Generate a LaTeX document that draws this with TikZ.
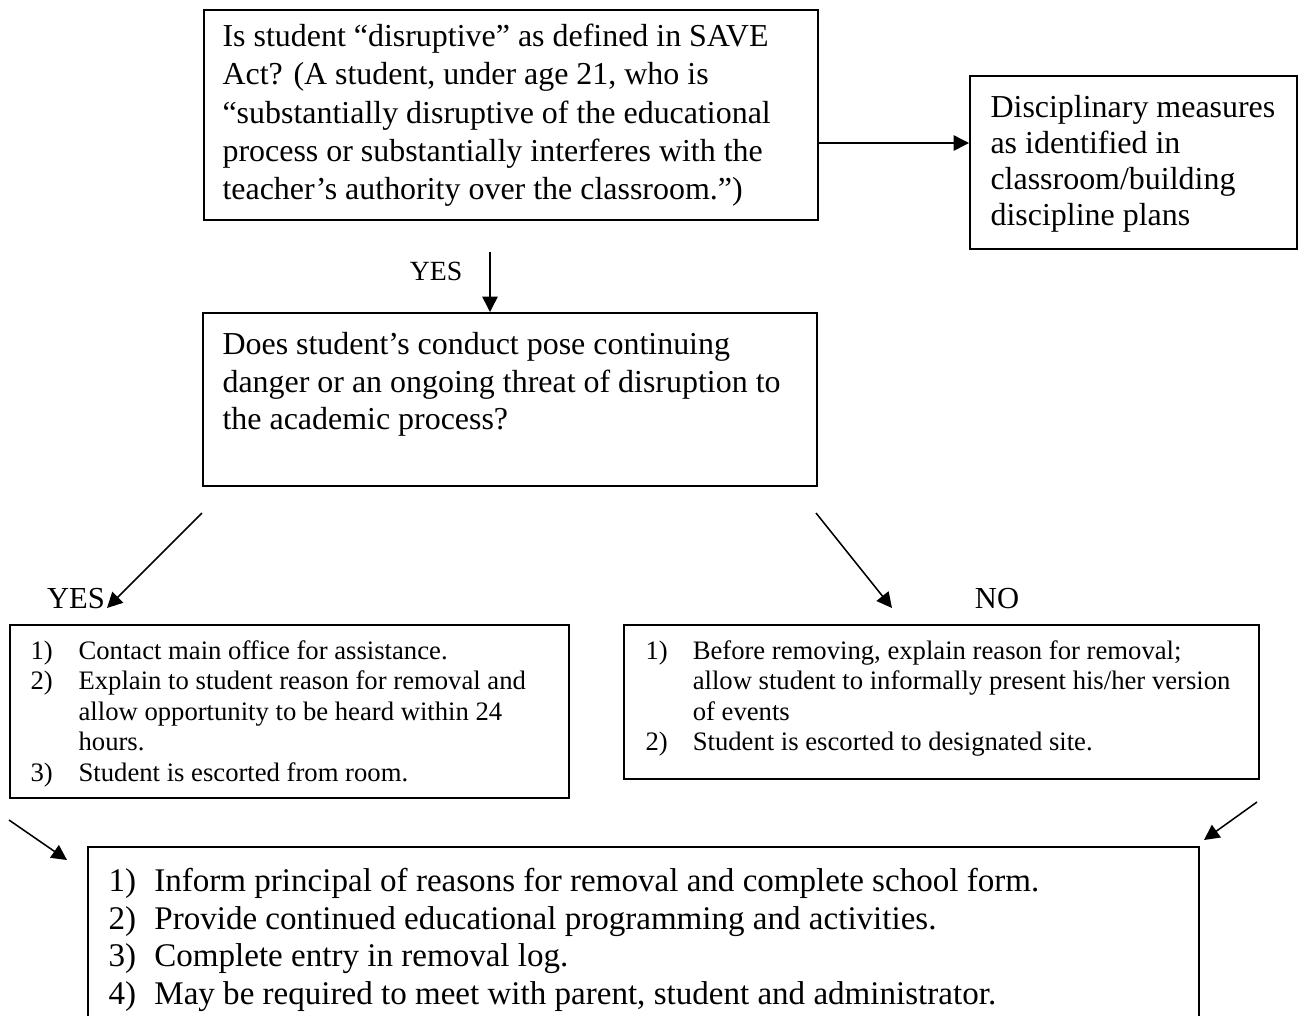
\documentclass[tikz,border=0pt]{standalone}
\usepackage{fontspec}
\setmainfont{Liberation Serif}
\usetikzlibrary{arrows.meta}
\begin{document}
\begin{tikzpicture}[x=0.36pt,y=-0.36pt,
  box/.style={draw, line width=0.75pt, inner sep=0, anchor=north west},
  wh/.style 2 args={minimum width=#1*0.36pt, minimum height=#2*0.36pt},
  txt/.style={anchor=north west, inner sep=0, yshift=10pt, align=left},
  bigA/.style={font=\fontsize{11.5}{13.8}\selectfont},
  bigB/.style={font=\fontsize{11.5}{12.96}\selectfont},
  bigC/.style={font=\fontsize{11.5}{13.5}\selectfont},
  bigF/.style={font=\fontsize{11.9}{13.5}\selectfont},
  small/.style={font=\fontsize{9.6}{10.95}\selectfont},
  arr/.style={line width=0.55pt, -{Triangle[length=5.5pt,width=5.5pt]}},
  lbl/.style={anchor=base, inner sep=0}]
\useasboundingbox (0,0) rectangle (1303,1015);
\clip (0,0) rectangle (1303,1015);

% boxes
\node[box, wh={614}{210}] (A) at (203,9) {};
\node[box, wh={327}{173}] (B) at (969,75) {};
\node[box, wh={614}{173}] (C) at (202,312) {};
\node[box, wh={559}{173}] (D) at (9,624) {};
\node[box, wh={635}{154}] (E) at (623,624) {};
\node[box, wh={1111}{260}] (F) at (87,846) {};

% texts
\node[txt,bigA] (At) at (222,46) {\rule{0pt}{10pt}Is student “disruptive” as defined in SAVE\\Act? (A student, under age 21, who is\\“substantially disruptive of the educational\\process or substantially interferes with the\\teacher’s authority over the classroom.”)};
\node[txt,bigB] (Bt) at (990,117) {\rule{0pt}{10pt}Disciplinary measures\\as identified in\\classroom/building\\discipline plans};
\node[txt,bigC] (Ct) at (222,354) {\rule{0pt}{10pt}Does student’s conduct pose continuing\\danger or an ongoing threat of disruption to\\the academic process?};
\node[txt,small] (Dt) at (30,659) {\rule{0pt}{10pt}\makebox[17.3pt][l]{1)}Contact main office for assistance.\\
\makebox[17.3pt][l]{2)}Explain to student reason for removal and\\
\hspace*{17.3pt}allow opportunity to be heard within 24\\
\hspace*{17.3pt}hours.\\
\makebox[17.3pt][l]{3)}Student is escorted from room.};
\node[txt,small] (Et) at (645,659) {\rule{0pt}{10pt}\makebox[17pt][l]{1)}Before removing, explain reason for removal;\\
\hspace*{17pt}allow student to informally present his/her version\\
\hspace*{17pt}of events\\
\makebox[17pt][l]{2)}Student is escorted to designated site.};
\node[txt,bigF] (Ft) at (108,891) {\rule{0pt}{10pt}\makebox[16.5pt][l]{1)}Inform principal of reasons for removal and complete school form.\\
\makebox[16.5pt][l]{2)}Provide continued educational programming and activities.\\
\makebox[16.5pt][l]{3)}Complete entry in removal log.\\
\makebox[16.5pt][l]{4)}May be required to meet with parent, student and administrator.};

% labels
\node[lbl, font=\fontsize{10}{12}\selectfont] (yes1) at (436,280) {YES};
\node[lbl, font=\fontsize{11}{13}\selectfont] (yes2) at (76,608) {YES};
\node[lbl, font=\fontsize{11}{13}\selectfont] (no) at (997,608) {NO};

% connectors
\coordinate (h) at (0,143);
\draw[arr] (A.east |- h) -- (B.west |- h);
\coordinate (d0) at (490,252);
\draw[arr] (d0) -- (d0 |- C.north);
\coordinate (l0) at (202,513);
\coordinate (l1) at (107,608);
\draw[arr] (l0) -- (l1);
\coordinate (r0) at (816,513);
\coordinate (r1) at (892,608);
\draw[arr] (r0) -- (r1);
\coordinate (b0) at (9,820);
\coordinate (b1) at (67,860);
\draw[arr] (b0) -- (b1);
\coordinate (c0) at (1257,802);
\coordinate (c1) at (1204,840);
\draw[arr] (c0) -- (c1);
\end{tikzpicture}
\end{document}
